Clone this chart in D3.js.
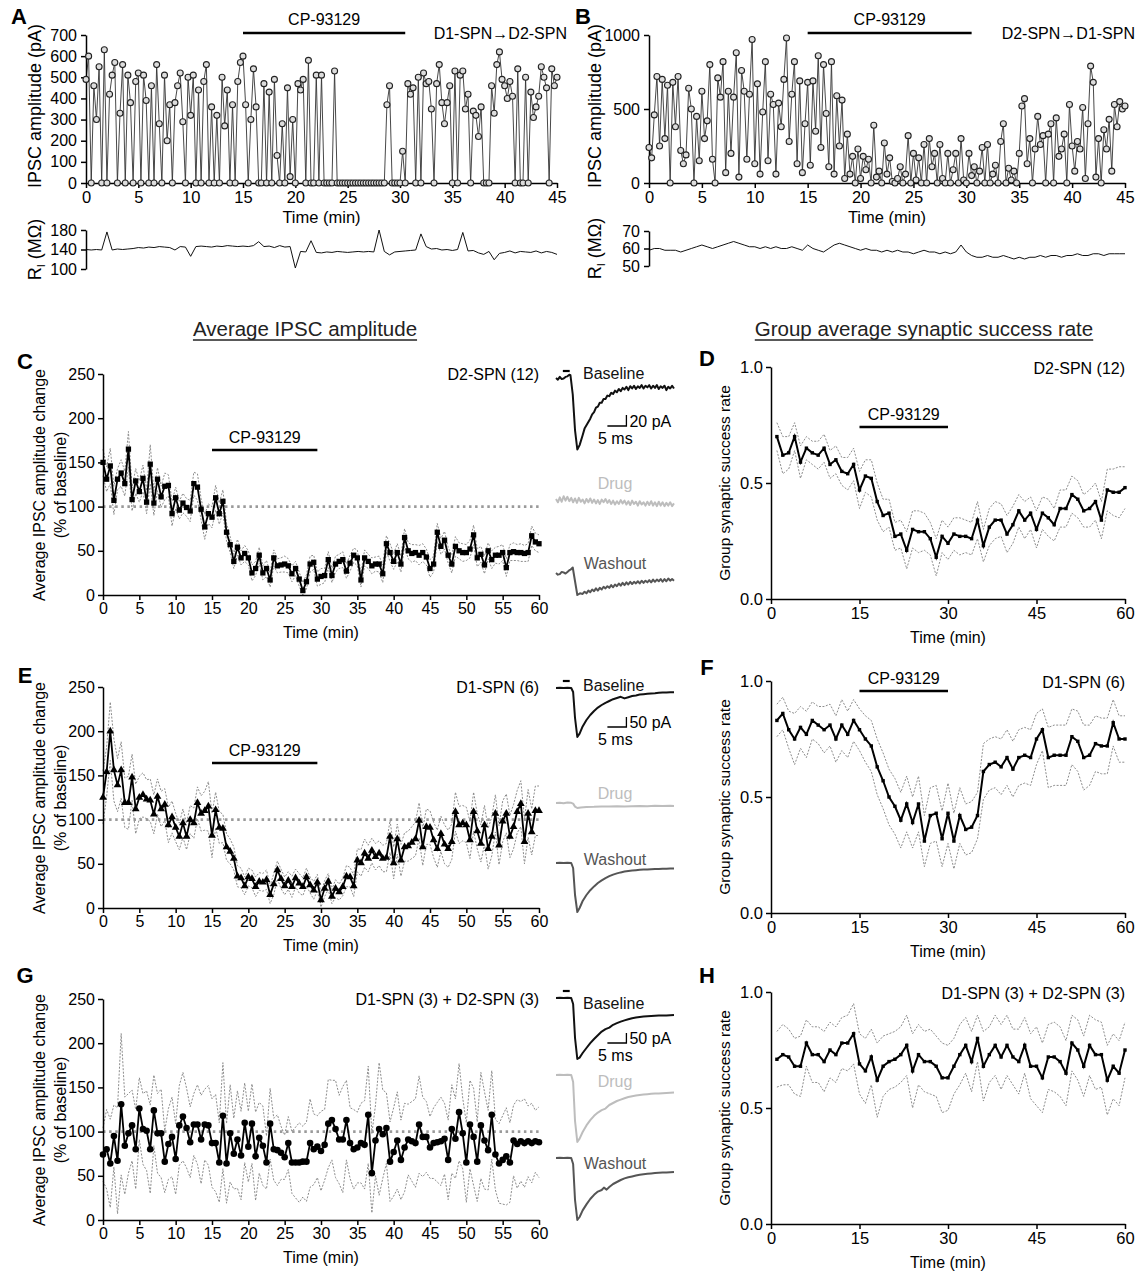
<!DOCTYPE html>
<html>
<head>
<meta charset="utf-8">
<script src="https://cdn.jsdelivr.net/npm/d3@7"></script>
<style>
body { margin: 0; background: #fff; }
svg { display: block; }
</style>
</head>
<body>
<script>
// ====== DATA ======
// A: D1-SPN -> D2-SPN single sweeps, one every 0.25 min (pA)
var rawStep = 0.25;
var rawA = [
  490,600,0,460, 300,550,0,630, 0,420,510,570, 0,330,560,0, 510,380,0,480,
  520,0,510,390, 0,460,0,560, 280,0,510,200, 370,0,380,460, 520,290,0,500,
  320,510,0,440, 0,480,560,0, 360,0,320,0, 500,270,440,0, 370,0,480,570,
  600,370,0,300, 540,360,0,0, 470,0,430,0, 490,130,0,280, 0,450,30,300,
  0,470,440,490, 0,580,0,0, 510,0,510,0, 0,0,0,530, 0,0,0,0,
  0,0,0,0, 0,0,0,0, 0,0,0,0, 0,0,0,370, 460,0,0,0,
  0,150,0,470, 420,450,0,500, 0,520,470,480, 350,0,470,560, 380,280,380,460,
  0,530,0,510, 530,350,420,0, 340,320,220,360, 0,0,0,460, 330,560,620,490,
  460,400,480,410, 0,540,0,0, 500,0,430,310, 360,410,550,500, 450,0,540,460,
  500
];
// B: D2-SPN -> D1-SPN single sweeps (pA)
var rawB = [
  240,170,460,720, 250,700,300,660, 0,680,380,720, 220,130,190,640, 500,0,450,150,
  620,300,420,800, 160,0,710,580, 820,70,620,200, 580,880,40,760, 620,160,600,970,
  130,670,60,480, 820,150,600,530, 60,540,380,700, 980,280,600,820, 130,690,70,400,
  680,120,690,350, 860,240,800,470, 110,820,60,590, 250,560,30,330, 60,180,0,230,
  30,180,90,160, 0,390,40,80, 0,270,60,170, 10,0,30,110, 0,60,320,0,
  200,20,170,0, 260,0,300,110, 200,0,260,30, 0,200,0,90, 200,0,300,20,
  0,200,50,110, 0,80,240,0, 260,0,60,120, 0,280,400,0, 100,20,80,0,
  200,520,570,130, 300,0,230,450, 260,320,0,330, 400,0,440,180, 230,330,0,530,
  250,80,280,230, 510,30,400,790, 680,40,300,0, 360,230,430,80, 530,380,550,500,
  520
];
// input resistance, one every 0.5 min (MOhm)
var riStep = 0.5;
var riA = [
  140,139,140,139,176,139,141,140,141,142,
  144,143,145,144,146,145,144,139,146,145,
  126,146,147,146,145,147,146,148,147,146,
  147,146,148,156,146,147,144,148,145,146,
  102,136,135,158,134,133,135,134,136,135,
  134,135,136,135,136,135,180,136,129,135,
  136,137,138,139,172,146,141,142,139,140,
  138,140,175,137,138,133,130,136,119,132,
  134,137,133,136,135,134,137,133,136,134,
  130
];
var riB = [
  59,60,60,59,59,59,58,59,60,61,
  62,61,60,61,62,63,64,63,62,61,
  61,60,61,60,61,60,60,61,60,59,
  62,60,59,58,60,62,63,62,61,60,
  59,60,59,59,58,59,58,59,58,58,
  57,58,59,58,58,57,58,57,58,62,
  58,56,55,55,56,55,55,56,55,54,
  55,54,55,55,56,55,56,56,55,56,
  56,57,56,56,57,57,56,57,57,57,
  57
];

// C/E/G: average IPSC amplitude (% of baseline), one every 0.5 min
var avgStep = 0.5;
var ampC = [
  150,131,146,107,131,138,126,165,108,129,117,132,105,148,104,131,111,123,124,92,
  110,96,104,99,95,126,122,97,77,92,88,110,92,106,71,57,38,54,42,47,
  42,25,30,45,25,30,17,42,33,34,35,33,24,30,18,5,15,35,37,18,
  21,22,40,22,35,38,40,27,36,45,42,17,42,38,33,35,35,24,58,48,
  38,48,35,65,50,47,48,45,48,43,30,35,71,55,62,45,35,55,50,48,
  48,52,68,42,46,34,50,40,45,45,48,31,48,49,48,48,47,48,67,60,
  58
];
var semC = [
  15,14,20,16,12,15,14,20,13,14,12,15,13,22,14,13,12,15,12,14,
  12,10,11,10,12,13,15,12,14,11,12,14,12,13,10,9,8,9,8,9,
  8,9,8,9,8,9,8,9,8,8,9,8,9,8,8,9,8,9,8,8,
  9,8,9,8,9,8,9,8,9,8,9,8,9,8,9,8,9,10,9,10,
  9,10,9,10,9,10,9,11,10,9,10,9,10,9,10,9,10,11,9,10,
  9,10,11,10,9,10,9,10,9,10,9,10,9,10,9,10,9,10,11,10,
  10
];
var ampE = [
  125,154,200,156,139,156,119,119,148,112,125,128,123,122,106,126,112,117,94,103,
  91,81,96,81,100,96,119,107,110,115,82,111,91,90,69,64,56,36,34,25,
  35,33,24,30,29,32,15,27,43,33,25,31,24,34,28,24,35,26,20,29,
  9,22,30,13,22,18,24,36,35,25,54,51,62,56,65,58,62,56,57,81,
  51,78,54,69,70,74,78,99,69,92,91,77,67,84,72,67,75,109,94,96,
  94,77,109,87,73,94,67,81,107,71,98,107,81,92,109,118,75,107,86,110,
  110
];
var semE = [
  30,28,33,35,30,32,28,30,26,28,24,25,22,24,22,20,20,18,20,18,
  16,15,16,15,16,17,18,20,22,28,25,20,18,16,15,14,13,12,11,10,
  10,10,11,10,10,11,10,12,10,11,10,10,12,10,11,10,10,9,10,9,
  8,9,9,8,10,9,10,12,11,12,13,15,16,15,14,15,14,15,16,18,
  18,17,18,16,17,18,19,20,21,20,19,20,21,20,22,21,20,22,21,20,
  20,21,22,20,21,22,23,22,21,22,23,22,24,25,24,26,25,27,26,28,
  28
];
var ampG = [
  74,80,64,95,67,131,84,98,107,80,126,103,101,80,124,98,98,66,86,94,
  69,107,117,104,88,108,108,91,108,107,87,87,65,118,64,98,75,91,73,110,
  83,109,72,93,84,65,109,80,79,76,71,87,65,65,65,66,66,87,80,83,
  78,85,109,113,103,91,91,113,87,80,82,87,85,119,53,90,103,97,104,66,
  77,90,68,82,91,89,87,108,94,94,82,87,88,89,92,68,103,92,122,98,
  65,108,94,66,107,90,79,119,74,64,68,72,65,90,86,89,87,89,87,89,
  88
];
var semG = [
  30,45,50,35,60,80,55,45,40,45,35,40,45,50,40,45,50,35,40,45,
  40,45,50,45,40,35,45,50,40,45,50,55,45,60,45,55,40,55,50,45,
  40,45,50,40,45,30,40,35,40,30,25,30,35,40,45,40,45,50,40,35,
  45,40,50,45,55,50,60,45,40,45,40,45,50,55,45,40,75,50,40,45,
  50,55,45,50,40,45,50,55,45,40,35,40,45,50,40,45,50,45,55,40,
  45,50,55,45,60,55,45,50,40,45,50,55,45,40,50,45,50,40,45,35,
  40
];

// D/F/H: group synaptic success rate, one per minute from 1 to 60
var rateD = [
  0.70,0.62,0.63,0.70,0.59,0.65,0.63,0.62,0.65,0.58,0.60,0.55,0.54,0.58,0.47,0.53,0.52,0.42,0.36,0.37,
  0.27,0.28,0.21,0.30,0.29,0.29,0.26,0.18,0.27,0.24,0.28,0.27,0.27,0.26,0.34,0.23,0.31,0.34,0.34,0.28,
  0.32,0.38,0.34,0.37,0.30,0.37,0.35,0.32,0.39,0.39,0.45,0.43,0.38,0.39,0.42,0.34,0.47,0.46,0.46,0.48
];
var semD = [
  0.06,0.08,0.07,0.06,0.07,0.05,0.05,0.06,0.06,0.06,0.06,0.06,0.07,0.07,0.08,0.07,0.08,0.08,0.07,0.06,
  0.06,0.06,0.08,0.08,0.09,0.08,0.07,0.08,0.07,0.07,0.07,0.08,0.07,0.07,0.08,0.07,0.08,0.08,0.07,0.08,
  0.08,0.07,0.08,0.07,0.08,0.07,0.08,0.07,0.08,0.08,0.08,0.08,0.07,0.08,0.08,0.08,0.09,0.10,0.11,0.09
];
var rateF = [
  0.83,0.86,0.79,0.75,0.80,0.77,0.83,0.81,0.79,0.81,0.75,0.81,0.77,0.83,0.79,0.75,0.72,0.63,0.57,0.50,
  0.46,0.40,0.47,0.39,0.47,0.31,0.42,0.43,0.32,0.43,0.31,0.42,0.36,0.37,0.42,0.61,0.64,0.65,0.63,0.67,
  0.62,0.67,0.68,0.67,0.75,0.79,0.67,0.68,0.68,0.68,0.76,0.74,0.67,0.68,0.73,0.72,0.72,0.82,0.75,0.75
];
var semF = [
  0.07,0.07,0.08,0.11,0.09,0.10,0.08,0.08,0.10,0.09,0.10,0.11,0.10,0.09,0.09,0.10,0.11,0.12,0.12,0.12,
  0.12,0.12,0.12,0.11,0.12,0.11,0.12,0.12,0.12,0.13,0.12,0.12,0.11,0.11,0.10,0.12,0.11,0.11,0.12,0.12,
  0.12,0.12,0.12,0.12,0.11,0.09,0.13,0.13,0.13,0.13,0.12,0.13,0.14,0.13,0.12,0.12,0.12,0.10,0.10,0.10
];
var rateH = [
  0.71,0.73,0.72,0.68,0.68,0.78,0.73,0.73,0.70,0.75,0.73,0.78,0.78,0.82,0.69,0.66,0.72,0.62,0.68,0.70,
  0.71,0.73,0.77,0.66,0.73,0.70,0.70,0.68,0.63,0.63,0.68,0.73,0.77,0.70,0.80,0.68,0.73,0.77,0.72,0.77,
  0.72,0.70,0.77,0.68,0.68,0.63,0.72,0.72,0.70,0.65,0.78,0.75,0.68,0.77,0.73,0.73,0.62,0.68,0.65,0.75
];
var semH = [
  0.12,0.13,0.12,0.12,0.13,0.10,0.12,0.12,0.13,0.12,0.12,0.11,0.12,0.13,0.13,0.14,0.12,0.16,0.13,0.12,
  0.12,0.12,0.13,0.16,0.13,0.13,0.14,0.13,0.15,0.14,0.12,0.13,0.12,0.13,0.10,0.15,0.12,0.13,0.14,0.13,
  0.12,0.14,0.12,0.14,0.17,0.15,0.14,0.15,0.15,0.14,0.12,0.13,0.13,0.13,0.15,0.14,0.15,0.14,0.14,0.12
];

// example IPSC traces, [ms, pA]
var trC = {
  base: [[0,0],[0.5,-3],[1,2],[1.5,-2],[2,-1],[2.5,2],[3,3],[3.5,6],[3.8,5],[4.4,-30],[5,-95],[5.6,-130],[6.2,-122],[7,-104],[7.5,-92],
         [8,-86],[8.5,-80],[9,-74],[9.5,-66],[10,-62],[10.5,-54],[11,-52],[11.5,-45],[12,-45],[12.5,-38],[13,-38],[13.5,-32],[14,-33],[14.5,-27],
         [15,-29],[15.5,-23],[16,-26],[16.5,-20],[17,-24],[17.5,-18],[18,-21],[18.5,-16],[19,-22],[19.5,-15],[20,-19],[20.5,-14],[21,-20],
         [21.5,-15],[22,-18],[22.5,-13],[23,-19],[23.5,-14],[24,-17],[24.5,-13],[25,-19],[25.5,-14],[26,-18],[26.5,-13],[27,-20],[27.5,-15],
         [28,-18],[28.5,-14],[29,-22],[29.5,-16],[30,-19],[30.5,-14],[31,-19]],
  drug: [[0,0],[0.5,-6],[1,3],[1.5,-5],[2,5],[2.5,-3],[3,4],[3.5,-4],[4,2],[4.5,-6],[5,1],[5.5,-7],[6,2],[6.5,-5],[7,-1],[7.5,-8],[8,0],
         [8.5,-6],[9,1],[9.5,-7],[10,-1],[10.5,-8],[11,-2],[11.5,-9],[12,-1],[12.5,-6],[13,0],[13.5,-7],[14,-2],[14.5,-9],[15,-3],[15.5,-10],
         [16,-4],[16.5,-9],[17,-2],[17.5,-8],[18,-3],[18.5,-10],[19,-4],[19.5,-11],[20,-3],[20.5,-9],[21,-5],[21.5,-12],[22,-4],[22.5,-10],
         [23,-6],[23.5,-12],[24,-5],[24.5,-11],[25,-4],[25.5,-12],[26,-6],[26.5,-13],[27,-5],[27.5,-12],[28,-6],[28.5,-13],[29,-7],[29.5,-12],
         [30,-6],[30.5,-13],[31,-8]],
  wash: [[0,0],[0.5,-3],[1,-2],[1.5,2],[2,1],[2.5,-1],[3,2],[3.5,5],[3.8,6],[4.4,10],[5,-15],[5.6,-40],[6.3,-37],[7,-38],[7.5,-34],[8,-37],
         [8.5,-32],[9,-35],[9.5,-30],[10,-33],[10.5,-28],[11,-32],[11.5,-27],[12,-30],[12.5,-25],[13,-28],[13.5,-24],[14,-27],[14.5,-22],
         [15,-26],[15.5,-21],[16,-24],[16.5,-19],[17,-23],[17.5,-18],[18,-22],[18.5,-17],[19,-21],[19.5,-16],[20,-20],[20.5,-16],[21,-19],
         [21.5,-15],[22,-19],[22.5,-14],[23,-18],[23.5,-14],[24,-17],[24.5,-13],[25,-17],[25.5,-12],[26,-16],[26.5,-12],[27,-15],[27.5,-11],
         [28,-16],[28.5,-11],[29,-15],[29.5,-10],[30,-14],[30.5,-11],[31,-14]]
};
var trE = {
  base: [[0,0],[1,1],[2,0],[3,1],[4,0],[4.5,-20],[5,-150],[5.6,-245],[6.2,-228],[7,-192],[8,-160],[9,-135],[10,-115],[11,-98],[12,-85],[13,-74],[14,-65],[15,-56],[16,-50],[17,-44],[18,-52],[19,-46],[20,-40],[21,-37],[22,-33],[23,-31],[24,-29],[25,-27],[26,-26],[27,-24],[28,-23],[29,-22],[30,-21],[31,-21]],
  drug: [[0,0],[1,1],[2,-1],[3,2],[4,1],[4.5,-3],[5,-18],[5.6,-25],[6.5,-22],[8,-20],[10,-19],[12,-17],[14,-18],[16,-16],[18,-17],[20,-16],[22,-15],[24,-16],[26,-14],[28,-15],[30,-14],[31,-15]],
  wash: [[0,0],[1,1],[2,0],[3,1],[4,0],[4.5,-25],[5,-160],[5.6,-245],[6.2,-225],[7,-190],[8,-160],[9,-136],[10,-117],[11,-100],[12,-87],[13,-76],[14,-66],[15,-58],[16,-52],[17,-47],[18,-43],[19,-40],[20,-38],[21,-36],[22,-34],[23,-33],[24,-32],[25,-31],[26,-30],[27,-30],[28,-29],[29,-29],[30,-28],[31,-28]]
};
var trG = {
  base: [[0,0],[1,1],[2,0],[3,1],[4,0],[4.5,-30],[5,-200],[5.6,-305],[6.2,-298],[7,-275],[8,-250],[9,-226],[10,-205],[11,-186],[12,-168],[13,-156],[14,-148],[15,-134],[16,-126],[17,-118],[18,-112],[19,-106],[20,-101],[21,-98],[22,-95],[23,-93],[24,-91],[25,-90],[26,-89],[27,-88],[28,-88],[29,-87],[30,-86],[31,-85]],
  drug: [[0,0],[1,1],[2,0],[3,1],[4,0],[4.5,-35],[5,-230],[5.6,-335],[6.2,-318],[7,-285],[8,-252],[9,-226],[10,-204],[11,-188],[12,-176],[13,-168],[14,-150],[15,-140],[16,-130],[17,-123],[18,-116],[19,-110],[20,-106],[21,-103],[22,-100],[23,-98],[24,-96],[25,-94],[26,-93],[27,-92],[28,-91],[29,-90],[30,-89],[31,-88]],
  wash: [[0,0],[1,1],[2,0],[3,1],[4,0],[4.5,-30],[5,-210],[5.6,-310],[6.2,-295],[7,-262],[8,-232],[9,-205],[10,-184],[11,-168],[12,-160],[12.6,-148],[13.3,-158],[14,-145],[15,-130],[16,-120],[17,-110],[18,-102],[19,-96],[20,-92],[21,-88],[22,-84],[23,-81],[24,-79],[25,-77],[26,-75],[27,-74],[28,-73],[29,-72],[30,-71],[31,-70]]
};

var drugLabel = "CP-93129";
var drugOn = [15, 29.5];

// ====== SETUP ======
var FONT = "Arial, 'Liberation Sans', Helvetica, sans-serif";
var svg = d3.select("body").append("svg")
    .attr("width", 1137)
    .attr("height", 1272)
    .style("font-family", FONT);

function styleAxis(g, fs) {
    g.select(".domain").attr("stroke", "#000").attr("stroke-width", 1.5);
    g.selectAll(".tick line").attr("stroke", "#000").attr("stroke-width", 1.5);
    g.selectAll(".tick text").attr("fill", "#000")
        .style("font-size", fs + "px").style("font-family", FONT);
}

function label(x, y, s, o) {
    o = o || {};
    var t = svg.append("text")
        .attr("x", x).attr("y", y)
        .attr("text-anchor", o.anchor || "middle")
        .attr("dominant-baseline", "central")
        .style("font-size", (o.size || 16) + "px")
        .style("font-weight", o.bold ? "bold" : "normal")
        .attr("fill", o.color || "#000")
        .text(s);
    if (o.rotate) t.attr("transform", "rotate(-90," + x + "," + y + ")");
    return t;
}

function letter(x, y, s) { label(x, y, s, {size: 22, bold: true}); }

function title(x, y, s) {
    var t = label(x, y, s, {size: 20.5, color: "#222"});
    var w = t.node().getComputedTextLength();
    svg.append("line").attr("x1", x - w / 2).attr("x2", x + w / 2)
        .attr("y1", y + 12).attr("y2", y + 12)
        .attr("stroke", "#222").attr("stroke-width", 1.3);
}

// ====== RAW SWEEP PANELS (A, B) ======
function rawPanel(p) {
    var x = d3.scaleLinear().domain([0, 45]).range([p.x0, p.x1]);
    var y = d3.scaleLinear().domain([0, p.ymax]).range([183, 35]);
    var g = svg.append("g");

    var pts = p.data.map(function(v, i) { return [i * rawStep, v]; });
    g.append("path").datum(pts)
        .attr("d", d3.line().x(function(d) { return x(d[0]); }).y(function(d) { return y(d[1]); }))
        .attr("fill", "none").attr("stroke", "#333").attr("stroke-width", 0.9);

    g.append("g").attr("transform", "translate(0,183)")
        .call(d3.axisBottom(x).tickValues(d3.range(0, 46, 5)).tickSize(5).tickSizeOuter(0))
        .call(styleAxis, 16.5);
    g.append("g").attr("transform", "translate(" + p.x0 + ",0)")
        .call(d3.axisLeft(y).tickValues(p.yticks).tickFormat(d3.format("d")).tickSize(5).tickSizeOuter(0).tickPadding(4))
        .call(styleAxis, 16);

    g.selectAll("circle.pt").data(pts).enter().append("circle")
        .attr("class", "pt")
        .attr("cx", function(d) { return x(d[0]); })
        .attr("cy", function(d) { return y(d[1]); })
        .attr("r", 3)
        .attr("fill", "#ddd").attr("stroke", "#222").attr("stroke-width", 1.1);

    label((p.x0 + p.x1) / 2, 217, "Time (min)", {size: 16.5});
    label(p.ylx, 106, "IPSC amplitude (pA)", {size: 18, rotate: true});

    // drug bar
    g.append("line").attr("x1", x(15)).attr("x2", x(30.5)).attr("y1", 33).attr("y2", 33)
        .attr("stroke", "#000").attr("stroke-width", 2.5);
    label(x(22.75), 19, drugLabel, {size: 16});
    label(p.x1 + 10, 33, p.pair, {size: 16, anchor: "end"});

    // input resistance
    var yr = d3.scaleLinear().domain(p.riDomain).range([p.riBottom, p.riTop]);
    var rpts = p.ri.map(function(v, i) { return [i * riStep, v]; });
    g.append("path").datum(rpts)
        .attr("d", d3.line().x(function(d) { return x(d[0]); }).y(function(d) { return yr(d[1]); }))
        .attr("fill", "none").attr("stroke", "#111").attr("stroke-width", 1);
    g.append("g").attr("transform", "translate(" + p.x0 + ",0)")
        .call(d3.axisLeft(yr).tickValues(p.riTicks).tickSize(5).tickSizeOuter(0).tickPadding(4))
        .call(styleAxis, 16);

    var rl = svg.append("text")
        .attr("transform", "translate(" + p.ylx + "," + (p.riBottom + p.riTop) / 2 + ") rotate(-90)")
        .attr("text-anchor", "middle").attr("dominant-baseline", "central")
        .style("font-size", "18px");
    rl.append("tspan").text("R");
    rl.append("tspan").attr("baseline-shift", "sub").style("font-size", "11px").text("I");
    rl.append("tspan").text(" (MΩ)");
}

// ====== AVERAGE AMPLITUDE PANELS (C, E, G) ======
function avgPanel(p) {
    var x = d3.scaleLinear().domain([0, 60]).range([103, 539]);
    var y = d3.scaleLinear().domain([0, 250]).range([p.y0, p.y0 - 221]);
    var g = svg.append("g");

    g.append("line").attr("x1", x(0)).attr("x2", x(60)).attr("y1", y(100)).attr("y2", y(100))
        .attr("stroke", "#9a9a9a").attr("stroke-width", 2.6)
        .attr("stroke-dasharray", "2.5,3.6");

    var lineGen = d3.line().x(function(d) { return x(d[0]); }).y(function(d) { return y(d[1]); });
    var mean = p.data.map(function(v, i) { return [i * avgStep, v]; });
    var up = p.data.map(function(v, i) { return [i * avgStep, v + p.sem[i]]; });
    var lo = p.data.map(function(v, i) { return [i * avgStep, Math.max(v - p.sem[i], 0)]; });
    [up, lo].forEach(function(s) {
        g.append("path").datum(s).attr("d", lineGen)
            .attr("fill", "none").attr("stroke", "#8c8c8c").attr("stroke-width", 1)
            .attr("stroke-dasharray", "2,1.5");
    });
    g.append("path").datum(mean).attr("d", lineGen)
        .attr("fill", "none").attr("stroke", "#000").attr("stroke-width", 1.8);
    g.selectAll("path.mk").data(mean).enter().append("path")
        .attr("class", "mk")
        .attr("transform", function(d) { return "translate(" + x(d[0]) + "," + y(d[1]) + ")"; })
        .attr("d", d3.symbol().type(p.symbol).size(p.symSize))
        .attr("fill", "#000");

    g.append("g").attr("transform", "translate(0," + p.y0 + ")")
        .call(d3.axisBottom(x).tickValues(d3.range(0, 61, 5)).tickSize(5).tickSizeOuter(0))
        .call(styleAxis, 16);
    g.append("g").attr("transform", "translate(103,0)")
        .call(d3.axisLeft(y).tickValues(d3.range(0, 251, 50)).tickSize(5).tickSizeOuter(0).tickPadding(3))
        .call(styleAxis, 16);

    label(321, p.y0 + 37, "Time (min)", {size: 16});
    var cy = p.y0 - 110;
    label(39, cy, "Average IPSC amplitude change", {size: 16, rotate: true});
    label(60, cy, "(% of baseline)", {size: 16, rotate: true});
    label(539, p.y0 - 221, p.group, {size: 16, anchor: "end"});

    if (p.cp) {
        g.append("line").attr("x1", x(drugOn[0])).attr("x2", x(drugOn[1]))
            .attr("y1", p.y0 - 145).attr("y2", p.y0 - 145)
            .attr("stroke", "#000").attr("stroke-width", 2.5);
        label(x((drugOn[0] + drugOn[1]) / 2), p.y0 - 158, drugLabel, {size: 16});
    }

    // insets
    var tx = d3.scaleLinear().domain([0, 31]).range([556, 674]);
    var traces = [
        {d: p.tr.base, y0: p.ins[0], c: "#111", name: "Baseline", ly: p.lab[0]},
        {d: p.tr.drug, y0: p.ins[1], c: "#bdbdbd", name: "Drug", ly: p.lab[1]},
        {d: p.tr.wash, y0: p.ins[2], c: "#555", name: "Washout", ly: p.lab[2]}
    ];
    traces.forEach(function(t) {
        var ty = d3.scaleLinear().domain([0, -p.pA]).range([t.y0, t.y0 + p.pxPerBar]);
        g.append("path").datum(t.d)
            .attr("d", d3.line().x(function(d) { return tx(d[0]); }).y(function(d) { return ty(d[1]); }))
            .attr("fill", "none").attr("stroke", t.c).attr("stroke-width", 2)
            .attr("stroke-linejoin", "round");
        label(t.name === "Baseline" ? 583 : 615, t.ly, t.name,
              {size: 16, color: t.c, anchor: t.name === "Baseline" ? "start" : "middle"});
    });
    // stimulus marker
    g.append("line").attr("x1", tx(1.8)).attr("x2", tx(3.6))
        .attr("y1", p.ins[0] - 7).attr("y2", p.ins[0] - 7)
        .attr("stroke", "#000").attr("stroke-width", 2.2);
    // scale bar
    var sbY = p.sb;
    var ty0 = d3.scaleLinear().domain([0, -p.pA]).range([sbY, sbY + p.pxPerBar]);
    g.append("path")
        .attr("d", d3.line()([[tx(13.5), sbY], [tx(18.5), sbY], [tx(18.5), ty0(p.pA)]]))
        .attr("fill", "none").attr("stroke", "#000").attr("stroke-width", 1.3);
    label(tx(18.5) + 3, sbY - 5, p.pA + " pA", {size: 16, anchor: "start"});
    label(598, sbY + 12, "5 ms", {size: 16, anchor: "start"});
}

// ====== SUCCESS RATE PANELS (D, F, H) ======
function ratePanel(p) {
    var x = d3.scaleLinear().domain([0, 60]).range([771, 1125]);
    var y = d3.scaleLinear().domain([0, 1]).range([p.y0, p.y0 - 232]);
    var g = svg.append("g");
    var lineGen = d3.line().x(function(d) { return x(d[0]); }).y(function(d) { return y(d[1]); });
    var mean = p.data.map(function(v, i) { return [i + 1, v]; });
    var up = p.data.map(function(v, i) { return [i + 1, v + p.sem[i]]; });
    var lo = p.data.map(function(v, i) { return [i + 1, v - p.sem[i]]; });
    [up, lo].forEach(function(s) {
        g.append("path").datum(s).attr("d", lineGen)
            .attr("fill", "none").attr("stroke", "#8c8c8c").attr("stroke-width", 1)
            .attr("stroke-dasharray", "2,1.5");
    });
    g.append("path").datum(mean).attr("d", lineGen)
        .attr("fill", "none").attr("stroke", "#000").attr("stroke-width", 2);
    g.selectAll("rect.mk").data(mean).enter().append("rect")
        .attr("class", "mk")
        .attr("x", function(d) { return x(d[0]) - 1.7; })
        .attr("y", function(d) { return y(d[1]) - 1.7; })
        .attr("width", 3.4).attr("height", 3.4).attr("fill", "#000");

    g.append("g").attr("transform", "translate(0," + p.y0 + ")")
        .call(d3.axisBottom(x).tickValues([0, 15, 30, 45, 60]).tickSize(5).tickSizeOuter(0))
        .call(styleAxis, 16.5);
    g.append("g").attr("transform", "translate(771,0)")
        .call(d3.axisLeft(y).tickValues([0, 0.5, 1]).tickFormat(d3.format(".1f")).tickSize(5).tickSizeOuter(0).tickPadding(3))
        .call(styleAxis, 16.5);

    label(948, p.y0 + 38, "Time (min)", {size: 16});
    label(724, p.y0 - 116, "Group synaptic success rate", {size: 15.5, rotate: true});
    label(1125, p.y0 - 231, p.group, {size: 16, anchor: "end"});
    if (p.cpY) {
        g.append("line").attr("x1", x(15)).attr("x2", x(30))
            .attr("y1", p.cpY).attr("y2", p.cpY)
            .attr("stroke", "#000").attr("stroke-width", 2.5);
        label(x(22.5), p.cpY - 13, drugLabel, {size: 16});
    }
}

// ====== DRAW ======
rawPanel({x0: 86, x1: 557, ymax: 700, yticks: d3.range(0, 701, 100), data: rawA,
    pair: "D1-SPN\u2192D2-SPN", ylx: 35,
    ri: riA, riDomain: [100, 180], riTicks: [100, 140, 180], riBottom: 269, riTop: 230});
rawPanel({x0: 649, x1: 1125, ymax: 1000, yticks: [0, 500, 1000], data: rawB,
    pair: "D2-SPN\u2192D1-SPN", ylx: 595,
    ri: riB, riDomain: [50, 70], riTicks: [50, 60, 70], riBottom: 266, riTop: 231});

title(305, 328, "Average IPSC amplitude");
title(924, 328, "Group average synaptic success rate");

avgPanel({y0: 595, data: ampC, sem: semC, symbol: d3.symbolSquare, symSize: 28,
    group: "D2-SPN (12)", cp: true, tr: trC, pA: 20, pxPerBar: 11,
    ins: [378, 499, 573], lab: [373, 483, 563], sb: 426});
avgPanel({y0: 908, data: ampE, sem: semE, symbol: d3.symbolTriangle, symSize: 26,
    group: "D1-SPN (6)", cp: true, tr: trE, pA: 50, pxPerBar: 10,
    ins: [688, 803, 863], lab: [685, 793, 859], sb: 727});
avgPanel({y0: 1220, data: ampG, sem: semG, symbol: d3.symbolCircle, symSize: 34,
    group: "D1-SPN (3) + D2-SPN (3)", cp: false, tr: trG, pA: 50, pxPerBar: 10,
    ins: [998, 1075, 1158], lab: [1003, 1081, 1163], sb: 1043});

ratePanel({y0: 599, data: rateD, sem: semD, group: "D2-SPN (12)", cpY: 427});
ratePanel({y0: 913, data: rateF, sem: semF, group: "D1-SPN (6)", cpY: 691});
ratePanel({y0: 1224, data: rateH, sem: semH, group: "D1-SPN (3) + D2-SPN (3)", cpY: null});

letter(19, 16, "A");
letter(583, 16, "B");
letter(25, 361, "C");
letter(707, 358, "D");
letter(25, 675, "E");
letter(707, 667, "F");
letter(25, 975, "G");
letter(707, 975, "H");
</script>
</body>
</html>
